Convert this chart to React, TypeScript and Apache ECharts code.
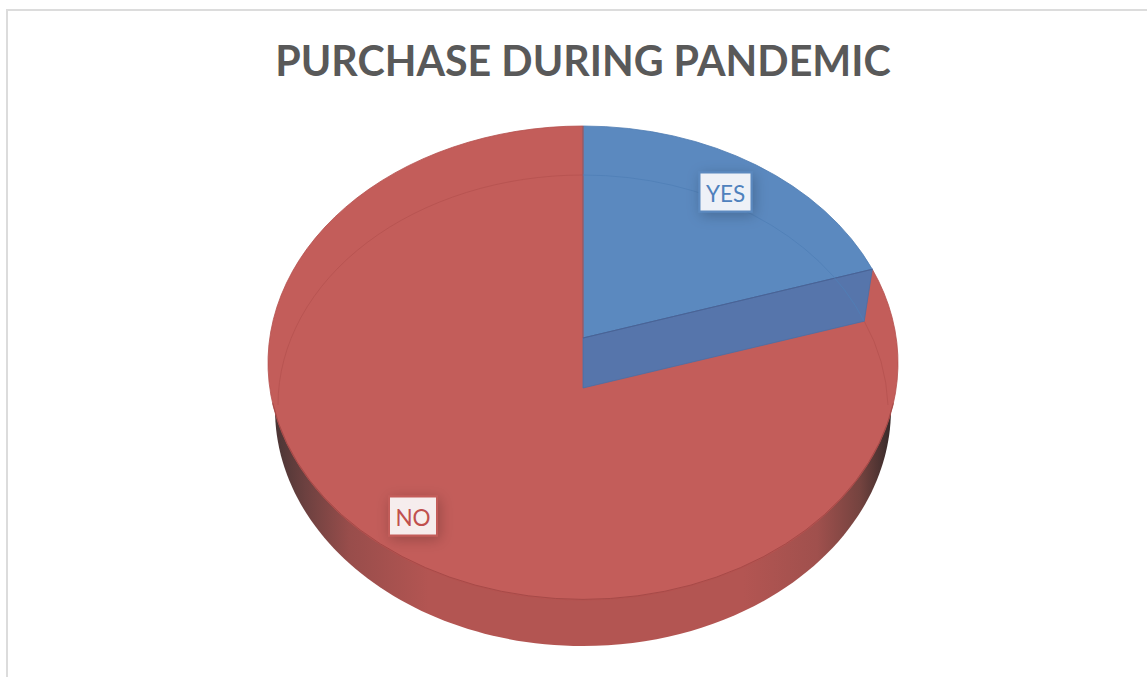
import React, { useEffect, useRef } from "react";
import * as echarts from "echarts";

const titleText = "PURCHASE DURING PANDEMIC";
const categories = ["YES", "NO"];
const shares = [19.6, 80.4];

const FILL = ["#5b89bf", "#c35d5a"];
const TEXT = ["#4f81bd", "#c0504d"];
const LABEL_BG = ["#eef1f7", "#f6eded"];
const LABEL_CENTER = [[725.5, 192], [413, 516]];

// Projected geometry of the tilted pie.
const CX = 583;
const FACE = { cx: CX, cy: 363, rx: 315, ry: 237 };
const RIM = { cx: CX, cy: 405, rx: 302, ry: 230 };
const RIM_EDGE = 305;
const BASE = { cx: CX, cy: 409, rx: 308, ry: 237 };
const TIP = { x: CX, y: 338 };
const TIP_SCALE = { x: 315, y: 212 };
const LOW_TIP = { x: CX, y: 388 };

type Ellipse = { cx: number; cy: number; rx: number; ry: number };
type Pt = { x: number; y: number };

function rimPoint(e: Ellipse, o: Pt, deg: number) {
  const a = (deg * Math.PI) / 180;
  const dx = TIP_SCALE.x * Math.sin(a);
  const dy = -TIP_SCALE.y * Math.cos(a);
  const ox = (o.x - e.cx) / e.rx;
  const oy = (o.y - e.cy) / e.ry;
  const ux = dx / e.rx;
  const uy = dy / e.ry;
  const A = ux * ux + uy * uy;
  const B = 2 * (ox * ux + oy * uy);
  const C = ox * ox + oy * oy - 1;
  const t = (-B + Math.sqrt(B * B - 4 * A * C)) / (2 * A);
  return { x: o.x + t * dx, y: o.y + t * dy };
}

function renderSlice(params: any, api: any) {
  const i = params.dataIndex;
  const total = shares.reduce((s, v) => s + v, 0);
  const value = api.value(0);
  const before = shares.slice(0, i).reduce((s, v) => s + v, 0);
  const startDeg = (before / total) * 360;
  const endDeg = ((before + value) / total) * 360;
  const large = endDeg - startDeg > 180 ? 1 : 0;
  const [lx, ly] = LABEL_CENTER[i];
  const w = i === 0 ? 52 : 48;
  const h = 39;
  const children: any[] = [];

  const from = rimPoint(FACE, TIP, startDeg);
  const to = rimPoint(FACE, TIP, endDeg % 360 === 0 ? 359.999 : endDeg);
  const faceD = `M${TIP.x} ${TIP.y}L${from.x} ${from.y}A${FACE.rx} ${FACE.ry} 0 ${large} 1 ${to.x} ${to.y}Z`;

  if (i === 1) {
    children.push({
      type: "ellipse",
      z2: 1,
      shape: BASE,
      style: {
        fill: new echarts.graphic.LinearGradient(
          BASE.cx - BASE.rx, 0, BASE.cx + BASE.rx, 0,
          [
            { offset: 0, color: "#4a3535" },
            { offset: 0.05, color: "#6d4140" },
            { offset: 0.12, color: "#984d4b" },
            { offset: 0.25, color: "#b35552" },
            { offset: 0.76, color: "#b35552" },
            { offset: 0.88, color: "#a0504d" },
            { offset: 0.95, color: "#74433f" },
            { offset: 1, color: "#372a2a" },
          ],
          true
        ),
      },
    });
    children.push({
      type: "path",
      z2: 1,
      shape: { pathData: faceD },
      style: { fill: FILL[1], stroke: "#b5514e", lineWidth: 0.8 },
    });
    const q = rimPoint(RIM, LOW_TIP, startDeg);
    // Far edge of the lower rim, seen through the face: right side, then left side.
    children.push({
      type: "path",
      z2: 1,
      shape: {
        pathData:
          `M${q.x} ${q.y}Q${RIM.cx + RIM_EDGE - 2} ${RIM.cy - 45} ${RIM.cx + RIM_EDGE} ${RIM.cy}` +
          `M${RIM.cx} ${RIM.cy - RIM.ry}A${RIM_EDGE} ${RIM.ry} 0 0 0 ${RIM.cx - RIM_EDGE} ${RIM.cy}`,
      },
      style: { fill: "none", stroke: "#b5524f", lineWidth: 0.8 },
    });
    children.push({
      type: "path",
      z2: 1,
      shape: {
        pathData: `M${FACE.cx - FACE.rx * 0.985} ${FACE.cy + FACE.ry * 0.17}A${FACE.rx} ${FACE.ry} 0 0 0 ${FACE.cx + FACE.rx * 0.985} ${FACE.cy + FACE.ry * 0.17}`,
      },
      style: { fill: "none", stroke: "#a64a48", lineWidth: 1 },
    });
  } else {
    const q = rimPoint(RIM, LOW_TIP, endDeg);
    children.push({
      type: "path",
      z2: 2,
      shape: { pathData: faceD },
      style: { fill: FILL[0], stroke: "#4f7cb2", lineWidth: 0.8 },
    });
    children.push({
      type: "line",
      z2: 2,
      shape: { x1: TIP.x, y1: from.y, x2: TIP.x, y2: TIP.y },
      style: { stroke: "#b0514f", lineWidth: 1 },
    });
    children.push({
      type: "polygon",
      z2: 2,
      shape: { points: [[TIP.x, TIP.y], [to.x, to.y], [q.x, q.y], [LOW_TIP.x, LOW_TIP.y]] },
      style: { fill: "#5675ab", stroke: "#4a6ea6", lineWidth: 0.8 },
    });
    children.push({
      type: "line",
      z2: 2,
      shape: { x1: TIP.x, y1: TIP.y, x2: to.x, y2: to.y },
      style: { stroke: "#4a6395", lineWidth: 1 },
    });
    children.push({
      type: "path",
      z2: 2,
      shape: {
        pathData: `M${RIM.cx} ${RIM.cy - RIM.ry}A${RIM.rx} ${RIM.ry} 0 0 1 ${q.x} ${q.y}`,
      },
      style: { fill: "none", stroke: "#4f7fb6", lineWidth: 0.8 },
    });
  }

  children.push({
    type: "rect",
    z2: 3,
    shape: { x: lx - w / 2, y: ly - h / 2, width: w, height: h },
    style: {
      fill: LABEL_BG[i],
      stroke: FILL[i],
      lineWidth: 2,
      shadowBlur: 14,
      shadowOffsetX: 2,
      shadowOffsetY: 3,
      shadowColor: "rgba(0,0,0,0.22)",
    },
  });
  children.push({
    type: "text",
    z2: 4,
    style: {
      x: lx,
      y: ly + 1,
      text: categories[i],
      fill: TEXT[i],
      font: '400 22.5px Lato, "Noto Sans", sans-serif',
      textAlign: "center",
      textVerticalAlign: "middle",
    },
  });
  return { type: "group", children };
}

export default function App() {
  const ref = useRef<HTMLDivElement>(null);
  useEffect(() => {
    document.body.style.margin = "0";
    const chart = echarts.init(ref.current!, null, { renderer: "svg" });
    chart.setOption({
      animation: false,
      backgroundColor: "#ffffff",
      title: {
        text: titleText,
        left: 578,
        top: 34,
        textAlign: "center",
        textStyle: {
          fontFamily: 'Lato, "Noto Sans", sans-serif',
          fontWeight: 700,
          fontSize: 41.2,
          color: "#595959",
        },
      },
      graphic: [
        { type: "rect", shape: { x: 6, y: 9, width: 1141, height: 2 }, style: { fill: "#dcdcdc" }, silent: true },
        { type: "rect", shape: { x: 6, y: 9, width: 2, height: 668 }, style: { fill: "#dcdcdc" }, silent: true },
      ],
      series: [
        {
          type: "custom",
          coordinateSystem: "none",
          silent: true,
          renderItem: renderSlice,
          data: categories.map((name, i) => ({ name, value: [shares[i]] })),
        },
      ],
    });
    return () => chart.dispose();
  }, []);
  return <div ref={ref} style={{ width: 1147, height: 677 }} />;
}
